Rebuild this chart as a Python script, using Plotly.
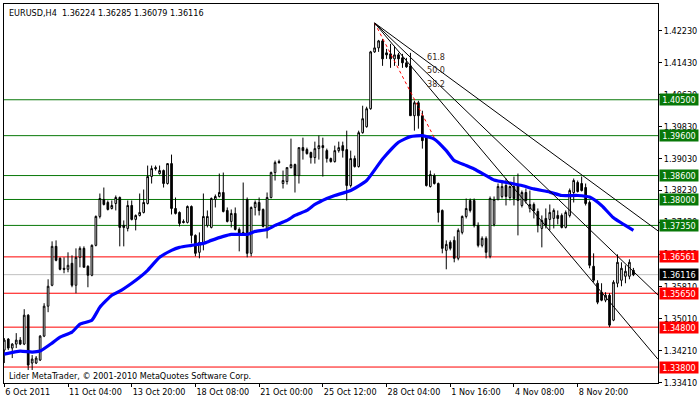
import plotly.graph_objects as go

# ---------------- data (EURUSD H4) ----------------
open_ = [1.34225, 1.34500, 1.34275, 1.34375, 1.34475, 1.34375, 1.35100, 1.33900, 1.33900, 1.33975,
         1.34575, 1.35325, 1.35850, 1.36825, 1.36525, 1.36275, 1.36250, 1.36400, 1.35850, 1.36550,
         1.36775, 1.36325, 1.36100, 1.36850, 1.37575, 1.38000, 1.37925, 1.37775, 1.37900, 1.38050,
         1.37350, 1.37275, 1.37850, 1.37500, 1.37600, 1.37675, 1.37900, 1.38575, 1.38800, 1.38650,
         1.38725, 1.38400, 1.38900, 1.37775, 1.37675, 1.37450, 1.37425, 1.37825, 1.37100, 1.36675,
         1.36900, 1.37350, 1.37300, 1.38000, 1.38075, 1.38175, 1.37725, 1.37450, 1.37650, 1.37250,
         1.37175, 1.38000, 1.36650, 1.37800, 1.37925, 1.37750, 1.37225, 1.38050, 1.38675, 1.38950,
         1.38400, 1.38450, 1.38800, 1.38875, 1.38600, 1.39300, 1.39250, 1.39175, 1.39050, 1.39275,
         1.39350, 1.39225, 1.39025, 1.38950, 1.39225, 1.39350, 1.39250, 1.38350, 1.39025, 1.38825,
         1.39675, 1.39825, 1.40275, 1.41700, 1.41800, 1.41975, 1.41675, 1.41650, 1.41525, 1.41625,
         1.41550, 1.41425, 1.41350, 1.40100, 1.40425, 1.40100, 1.39550, 1.38325, 1.38600, 1.38400,
         1.37725, 1.36725, 1.36925, 1.36975, 1.36525, 1.37175, 1.37575, 1.37975, 1.37975, 1.37350,
         1.36850, 1.37025, 1.36575, 1.37375, 1.38000, 1.38075, 1.38350, 1.38050, 1.38325, 1.38350,
         1.37850, 1.38175, 1.37775, 1.37875, 1.37700, 1.37275, 1.37525, 1.37500, 1.37525, 1.37600,
         1.37600, 1.37300, 1.37600, 1.38175, 1.38425, 1.38400, 1.38300, 1.37925, 1.36325, 1.35900,
         1.35675, 1.35475, 1.35600, 1.34975, 1.35900, 1.35975, 1.36075, 1.36075, 1.36224]

high = [1.34525, 1.34525, 1.34400, 1.34650, 1.34550, 1.35250, 1.35125, 1.34100, 1.34075, 1.34600,
        1.35400, 1.36000, 1.36950, 1.36975, 1.36550, 1.36550, 1.36675, 1.36600, 1.36775, 1.36825,
        1.36825, 1.36350, 1.36875, 1.37600, 1.38150, 1.38300, 1.37975, 1.37975, 1.38100, 1.38075,
        1.37475, 1.37975, 1.37975, 1.37625, 1.38150, 1.38250, 1.38850, 1.38850, 1.38850, 1.38850,
        1.38750, 1.38900, 1.39125, 1.38050, 1.37700, 1.37500, 1.37850, 1.37850, 1.37125, 1.37175,
        1.38150, 1.37725, 1.38050, 1.38125, 1.38650, 1.38675, 1.37800, 1.37750, 1.37800, 1.37300,
        1.38425, 1.38050, 1.37825, 1.37975, 1.38050, 1.37775, 1.38175, 1.38700, 1.38975, 1.39000,
        1.38725, 1.38800, 1.39525, 1.38900, 1.39300, 1.39550, 1.39300, 1.39200, 1.39450, 1.39600,
        1.39550, 1.39275, 1.39050, 1.39350, 1.39450, 1.39450, 1.39725, 1.39225, 1.39100, 1.39725,
        1.40350, 1.40325, 1.41725, 1.42425, 1.42000, 1.42025, 1.41775, 1.41900, 1.41850, 1.41675,
        1.41650, 1.41550, 1.41675, 1.40475, 1.40475, 1.40225, 1.39575, 1.38725, 1.38650, 1.38425,
        1.37750, 1.36975, 1.36975, 1.37075, 1.37275, 1.37600, 1.38025, 1.38025, 1.38025, 1.37425,
        1.37075, 1.37075, 1.38075, 1.38075, 1.38400, 1.38475, 1.38525, 1.38350, 1.38575, 1.38650,
        1.38225, 1.38275, 1.38225, 1.37925, 1.37775, 1.37600, 1.37775, 1.37875, 1.37775, 1.37725,
        1.37650, 1.37725, 1.38275, 1.38525, 1.38475, 1.38575, 1.38400, 1.37975, 1.36650, 1.35975,
        1.35900, 1.35675, 1.35650, 1.35975, 1.36625, 1.36425, 1.36350, 1.36500, 1.36285]

low = [1.33900, 1.34225, 1.34025, 1.34275, 1.34350, 1.34350, 1.33725, 1.33725, 1.33875, 1.33950,
       1.34550, 1.35175, 1.35825, 1.36450, 1.36225, 1.36150, 1.36175, 1.35800, 1.35650, 1.36300,
       1.36300, 1.35800, 1.36075, 1.36825, 1.37525, 1.37850, 1.37725, 1.37750, 1.37725, 1.36825,
       1.36825, 1.37200, 1.37475, 1.37225, 1.37575, 1.37650, 1.37875, 1.38400, 1.38725, 1.38625,
       1.38300, 1.38375, 1.37625, 1.37625, 1.37325, 1.37400, 1.37400, 1.36900, 1.36575, 1.36525,
       1.36725, 1.37300, 1.37275, 1.37800, 1.38050, 1.37675, 1.37425, 1.37300, 1.37225, 1.36700,
       1.37100, 1.36550, 1.36575, 1.37600, 1.37600, 1.37300, 1.37025, 1.38025, 1.38475, 1.38900,
       1.38275, 1.38375, 1.38775, 1.38175, 1.38400, 1.39000, 1.39125, 1.38900, 1.38900, 1.39000,
       1.38575, 1.38925, 1.38925, 1.38925, 1.39175, 1.39050, 1.37975, 1.38300, 1.38800, 1.38800,
       1.39650, 1.39800, 1.40250, 1.41675, 1.41700, 1.41350, 1.41525, 1.41300, 1.41350, 1.41350,
       1.41300, 1.41300, 1.40100, 1.39725, 1.39775, 1.39275, 1.38325, 1.38300, 1.38375, 1.37425,
       1.36650, 1.36250, 1.36725, 1.36425, 1.36475, 1.37125, 1.37525, 1.37675, 1.37300, 1.36800,
       1.36800, 1.36525, 1.36525, 1.37325, 1.37975, 1.38025, 1.37850, 1.37975, 1.37850, 1.37100,
       1.37800, 1.37900, 1.37675, 1.37525, 1.37175, 1.36800, 1.37275, 1.37225, 1.37275, 1.37375,
       1.37275, 1.37275, 1.37550, 1.37925, 1.38175, 1.38200, 1.37850, 1.36275, 1.35925, 1.35375,
       1.35450, 1.35425, 1.34800, 1.34950, 1.35800, 1.35825, 1.35900, 1.36000, 1.36079]

close = [1.34475, 1.34275, 1.34375, 1.34475, 1.34375, 1.35100, 1.33850, 1.34000, 1.34025, 1.34575,
         1.35325, 1.35825, 1.36825, 1.36475, 1.36250, 1.36250, 1.36350, 1.35850, 1.36550, 1.36775,
         1.36300, 1.36100, 1.36850, 1.37575, 1.38025, 1.37875, 1.37750, 1.37850, 1.38050, 1.37300,
         1.37300, 1.37850, 1.37500, 1.37600, 1.37675, 1.37925, 1.38575, 1.38775, 1.38775, 1.38725,
         1.38400, 1.38900, 1.37775, 1.37650, 1.37400, 1.37425, 1.37825, 1.37100, 1.36650, 1.36925,
         1.37575, 1.37575, 1.38025, 1.38075, 1.38175, 1.37700, 1.37450, 1.37650, 1.37250, 1.37150,
         1.37125, 1.36650, 1.37800, 1.37925, 1.37725, 1.37325, 1.38050, 1.38675, 1.38925, 1.38925,
         1.38475, 1.38800, 1.38875, 1.38600, 1.39300, 1.39225, 1.39150, 1.39050, 1.39275, 1.39350,
         1.39300, 1.39025, 1.38950, 1.39225, 1.39300, 1.39225, 1.38350, 1.39025, 1.38825, 1.39675,
         1.40025, 1.40275, 1.41700, 1.41800, 1.41975, 1.41525, 1.41625, 1.41525, 1.41625, 1.41525,
         1.41425, 1.41325, 1.40100, 1.40425, 1.40100, 1.39475, 1.38350, 1.38625, 1.38400, 1.37675,
         1.36775, 1.36875, 1.36775, 1.36525, 1.37225, 1.37575, 1.37775, 1.37725, 1.37350, 1.36850,
         1.37025, 1.36675, 1.38025, 1.38000, 1.38325, 1.38325, 1.38075, 1.38325, 1.38025, 1.37975,
         1.38175, 1.37975, 1.37875, 1.37725, 1.37350, 1.37475, 1.37350, 1.37675, 1.37725, 1.37525,
         1.37300, 1.37675, 1.38225, 1.38475, 1.38200, 1.38225, 1.37900, 1.36350, 1.35975, 1.35425,
         1.35475, 1.35600, 1.34850, 1.35925, 1.36425, 1.36275, 1.36200, 1.36425, 1.36116]

# moving average (blue), read at bar positions
ma_bar = [0, 4, 7, 9, 12, 14, 17, 19, 22, 24, 27, 29, 32, 34, 36, 39, 42, 44, 47, 50,
          52, 55, 57, 61, 63, 66, 68, 71, 73, 76, 78, 81, 83, 87, 91, 95, 99, 102, 105, 108,
          111, 113, 116, 118, 121, 123, 127, 130, 133, 137, 140, 144, 147, 150, 153, 158]
ma_val = [1.34125, 1.34200, 1.34175, 1.34200, 1.34400, 1.34550, 1.34675, 1.34875, 1.34975, 1.35300,
          1.35600, 1.35700, 1.35900, 1.36050, 1.36225, 1.36550, 1.36725, 1.36800, 1.36850, 1.36900,
          1.36975, 1.37075, 1.37125, 1.37125, 1.37200, 1.37250, 1.37350, 1.37475, 1.37600, 1.37725,
          1.37875, 1.38025, 1.38100, 1.38225, 1.38475, 1.39015, 1.39435, 1.39575, 1.39600, 1.39515,
          1.39225, 1.38975, 1.38850, 1.38765, 1.38600, 1.38490, 1.38410, 1.38350, 1.38265, 1.38185,
          1.38100, 1.38100, 1.38060, 1.37850, 1.37540, 1.37225]

# horizontal levels
green_levels = [1.40500, 1.39600, 1.38600, 1.38000, 1.37350]
red_levels = [1.36561, 1.35650, 1.34800, 1.33800]

# Fibonacci fan anchors (bar, price) and levels
fan_p1 = (93, 1.42425)
fan_p2 = (108, 1.39550)
fan_levels = [0.382, 0.5, 0.618]
fan_labels = ["38.2", "50.0", "61.8"]

# axis ticks
x_tick_bars = [0, 16, 32, 48, 64, 80, 96, 112, 128, 144]
x_tick_text = ["6 Oct 2011", "11 Oct 04:00", "13 Oct 20:00", "18 Oct 08:00", "21 Oct 00:00",
               "25 Oct 12:00", "28 Oct 04:00", "1 Nov 16:00", "4 Nov 08:00", "8 Nov 20:00"]
y_tick_vals = [1.42230, 1.41430, 1.40630, 1.39830, 1.39030, 1.38230, 1.37430, 1.36630,
               1.35810, 1.35010, 1.34210, 1.33410]

symbol = "EURUSD,H4"
copyright_text = "Lider MetaTrader, © 2001-2010 MetaQuotes Software Corp."

# ---------------- figure ----------------
FONT = "DejaVu Sans Condensed, DejaVu Sans, Liberation Sans, sans-serif"
GREEN = "#087808"
RED = "#FF0000"
X_MIN, X_MAX = -0.075, 164.175
Y_MIN, Y_MAX = 1.33400, 1.42900

n = len(open_)
xs = list(range(n))

fig = go.Figure()

fig.add_trace(go.Candlestick(
    x=xs, open=open_, high=high, low=low, close=close,
    increasing=dict(line=dict(color="black", width=1), fillcolor="white"),
    decreasing=dict(line=dict(color="black", width=1), fillcolor="black"),
    whiskerwidth=0, hoverinfo="skip", showlegend=False))

fig.add_trace(go.Scatter(
    x=ma_bar, y=ma_val, mode="lines",
    line=dict(color="#0000FF", width=3.2, shape="spline", smoothing=0.5),
    hoverinfo="skip", showlegend=False))

# Fibonacci fan
(x1, p1), (x2, p2) = fan_p1, fan_p2
fig.add_trace(go.Scatter(x=[x1, x2], y=[p1, p2], mode="lines",
                         line=dict(color=RED, width=1, dash="dot"),
                         hoverinfo="skip", showlegend=False))
for lv, lab in zip(fan_levels, fan_labels):
    pl = p2 + (p1 - p2) * lv
    slope = (pl - p1) / (x2 - x1)
    ye = p1 + slope * (X_MAX - x1)
    fig.add_trace(go.Scatter(x=[x1, X_MAX], y=[p1, ye], mode="lines",
                             line=dict(color="black", width=1),
                             hoverinfo="skip", showlegend=False))
    fig.add_annotation(x=x2, y=pl, xref="x", yref="y", text=lab, showarrow=False,
                       xanchor="left", yanchor="middle", xshift=-9, yshift=10,
                       font=dict(family=FONT, size=9, color="#3a2a1a"))

shapes = []
annotations = []


def level(price, color, box_bg, text_color="white"):
    shapes.append(dict(type="line", xref="paper", x0=0, x1=1, yref="y", y0=price, y1=price,
                       line=dict(color=color, width=1), layer="below"))
    annotations.append(dict(xref="paper", x=1, xanchor="left", xshift=1, yref="y", y=price,
                            yanchor="middle", text=f"{price:.5f}", showarrow=False,
                            bgcolor=box_bg, borderpad=1, width=36, height=9,
                            font=dict(family=FONT, size=9, color=text_color)))


for v in green_levels:
    level(v, GREEN, GREEN)
for v in red_levels:
    level(v, RED, RED)
level(close[-1], "#C0C0C0", "black")

annotations.append(dict(xref="paper", yref="paper", x=0, y=1, xanchor="left", yanchor="top",
                        xshift=3, yshift=-2, showarrow=False,
                        text=f"{symbol}\u00a0\u00a0{open_[-1]:.5f} {high[-1]:.5f} {low[-1]:.5f} {close[-1]:.5f}",
                        font=dict(family=FONT, size=9, color="black")))
annotations.append(dict(xref="paper", yref="paper", x=0, y=0, xanchor="left", yanchor="bottom",
                        xshift=3, yshift=0, showarrow=False, text=copyright_text,
                        font=dict(family=FONT, size=9, color="black")))

for a in annotations:
    fig.add_annotation(**a)

fig.update_layout(
    width=700, height=402,
    margin=dict(l=3, r=40, t=3, b=19),
    paper_bgcolor="white", plot_bgcolor="white",
    shapes=shapes, boxgap=0.4, hovermode=False,
    font=dict(family=FONT, size=9, color="black"),
    xaxis=dict(range=[X_MIN, X_MAX], rangeslider=dict(visible=False), showgrid=False,
               zeroline=False, showline=True, linecolor="black", linewidth=1, mirror=True,
               ticks="outside", ticklen=3, tickcolor="black",
               tickvals=x_tick_bars, ticktext=x_tick_text, ticklabelposition="outside right",
               tickfont=dict(family=FONT, size=9, color="black")),
    yaxis=dict(range=[Y_MIN, Y_MAX], side="right", showgrid=False, zeroline=False,
               showline=True, linecolor="black", linewidth=1, mirror=True,
               ticks="outside", ticklen=3, tickcolor="black",
               tickvals=y_tick_vals, ticktext=[f"{v:.5f}" for v in y_tick_vals],
               tickfont=dict(family=FONT, size=9, color="black")),
)

fig.write_html("out.html",
               config={"displayModeBar": False, "staticPlot": True},
               post_script="document.body.style.margin='0';document.body.style.padding='0';")
